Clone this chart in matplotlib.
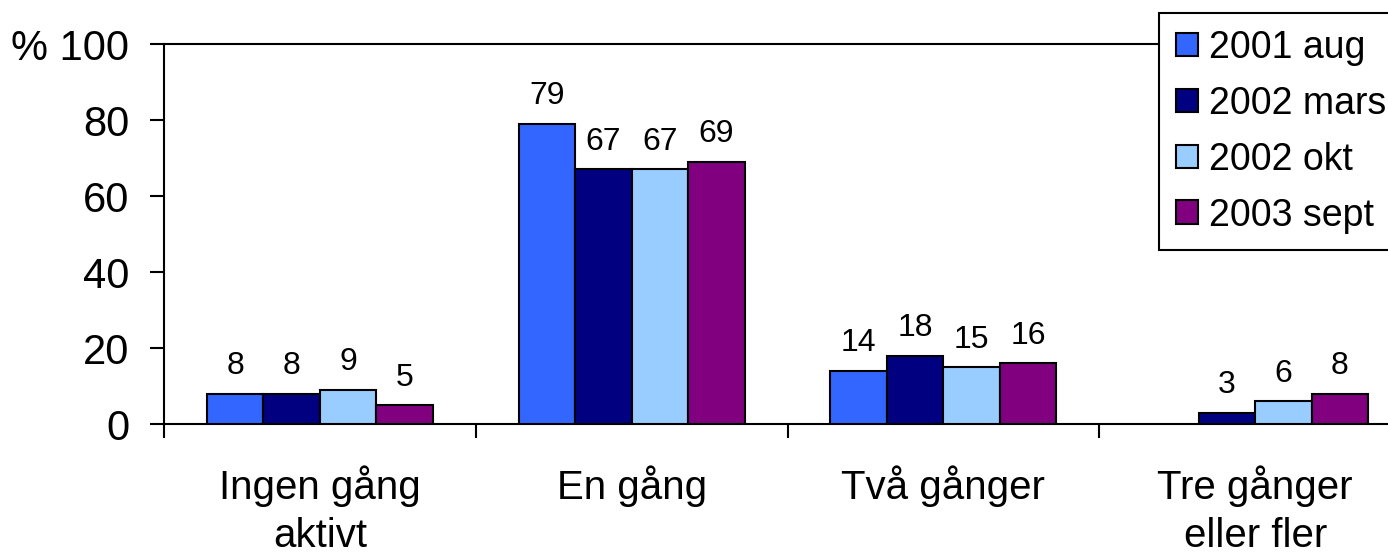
import numpy as np
import matplotlib
matplotlib.use("Agg")
import matplotlib.pyplot as plt

categories = ["Ingen gång\naktivt", "En gång", "Två gånger", "Tre gånger\neller fler"]
series_names = ["2001 aug", "2002 mars", "2002 okt", "2003 sept"]
s2001_aug = [8, 79, 14, np.nan]
s2002_mars = [8, 67, 18, 3]
s2002_okt = [9, 67, 15, 6]
s2003_sept = [5, 69, 16, 8]
yticks = [0, 20, 40, 60, 80, 100]
ytick_labels = ["0", "20", "40", "60", "80", "% 100"]
colors = ["#3366FF", "#000080", "#99CCFF", "#800080"]

plt.rcParams['font.family'] = ['Liberation Sans', 'DejaVu Sans']

fig = plt.figure(figsize=(13.88, 5.6), dpi=100)
ax = fig.add_axes([164/1388, 1-424/560, 1247/1388, 380/560])

series = [s2001_aug, s2002_mars, s2002_okt, s2003_sept]
x = np.arange(len(categories))
w = 0.1813
handles = []
for i, (vals, c, name) in enumerate(zip(series, colors, series_names)):
    pos = x + (i - 1.5) * w
    vals = np.array(vals, dtype=float)
    mask = ~np.isnan(vals)
    b = ax.bar(pos[mask], vals[mask], width=w, color=c, edgecolor='black',
               linewidth=1.5, label=name, zorder=3)
    handles.append(b)
    for p, v in zip(pos[mask], vals[mask]):
        ax.annotate(f"{int(v)}", (p, v), xytext=(0, 14), textcoords='offset points',
                    ha='center', va='baseline', fontsize=23)

ax.set_xlim(-0.5, 3.5)
ax.set_ylim(0, 100)
ax.set_yticks(yticks)
ax.set_yticklabels(ytick_labels, fontsize=30)
ax.tick_params(axis='y', direction='out', length=10, width=1.5, pad=15)

ax.set_xticks(x)
ax.set_xticklabels(categories, fontsize=29, linespacing=1.33)
ax.tick_params(axis='x', which='major', length=0, pad=30)
ax.set_xticks(np.arange(len(categories)) - 0.5, minor=True)
ax.tick_params(axis='x', which='minor', direction='out', length=10, width=1.5)

for s in ['left', 'bottom', 'top', 'right']:
    ax.spines[s].set_linewidth(1.5)
    ax.spines[s].set_color('black')

leg = fig.legend(handles=handles, labels=series_names, loc='upper left',
                 bbox_to_anchor=(1159/1388, 1-13/560), fontsize=27,
                 frameon=True, fancybox=False, edgecolor='black',
                 handlelength=0.59, handleheight=0.59, handletextpad=0.3,
                 labelspacing=0.53, borderpad=0.45, borderaxespad=0)
leg.get_frame().set_linewidth(1.5)
leg.get_frame().set_alpha(1)

fig.savefig("out.png", dpi=100)
